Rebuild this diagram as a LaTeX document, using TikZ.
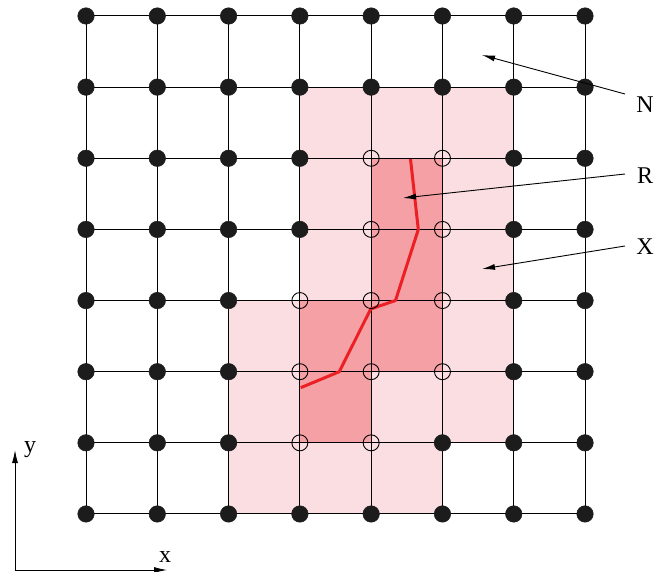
\documentclass[tikz,border=0pt]{standalone}
\usepackage{fontspec}
\setmainfont{Liberation Serif}
\usetikzlibrary{arrows.meta}
\definecolor{lightpink}{RGB}{251,222,225}
\definecolor{darkpink}{RGB}{245,160,165}
\definecolor{redpath}{RGB}{236,32,36}
\definecolor{dotblack}{RGB}{28,28,28}
\tikzset{
  gridline/.style={draw=black,line width=1pt},
  fulldot/.style={circle,fill=dotblack,draw=dotblack,line width=0.5pt,minimum size=16.5pt,inner sep=0pt},
  opendot/.style={circle,draw=black,line width=0.9pt,minimum size=16pt,inner sep=0pt},
  pointer/.style={draw=black,line width=0.9pt,-{Latex[length=13pt,width=6pt]}},
  lbl/.style={inner sep=0pt,font=\fontsize{24}{28}\selectfont}
}
\expandafter\def\csname h-4-2\endcsname{}
\expandafter\def\csname h-5-2\endcsname{}
\expandafter\def\csname h-4-3\endcsname{}
\expandafter\def\csname h-5-3\endcsname{}
\expandafter\def\csname h-3-4\endcsname{}
\expandafter\def\csname h-4-4\endcsname{}
\expandafter\def\csname h-5-4\endcsname{}
\expandafter\def\csname h-3-5\endcsname{}
\expandafter\def\csname h-4-5\endcsname{}
\expandafter\def\csname h-5-5\endcsname{}
\expandafter\def\csname h-3-6\endcsname{}
\expandafter\def\csname h-4-6\endcsname{}
\begin{document}
\begin{tikzpicture}[x=1pt,y=-1pt]
\useasboundingbox (0,0) rectangle (669,572);
% grid coordinates
\foreach \i in {0,...,7}{
  \foreach \j in {0,...,7}{
    \coordinate (p-\i-\j) at ({86+71.29*\i},{16+71.14*\j});
  }
}
% region X
\fill[lightpink] (p-3-1) -- (p-6-1) -- (p-6-6) -- (p-5-6) -- (p-5-7) -- (p-2-7) -- (p-2-4) -- (p-3-4) -- cycle;
% region R
\fill[darkpink] (p-4-2) -- (p-5-2) -- (p-5-5) -- (p-4-5) -- (p-4-6) -- (p-3-6) -- (p-3-4) -- (p-4-4) -- cycle;
% grid lines
\foreach \k in {0,...,7}{
  \draw[gridline] (p-\k-0) -- (p-\k-7);
  \draw[gridline] (p-0-\k) -- (p-7-\k);
}
% red path
\draw[redpath,line width=3pt,line join=round] (410.5,159) -- (418.3,229.5) -- (395.5,300.5) -- (370.7,309) -- (339.3,371.7) -- (300.7,387.7);
% dots
\foreach \i in {0,...,7}{
  \foreach \j in {0,...,7}{
    \ifcsname h-\i-\j\endcsname
      \node[opendot] (d-\i-\j) at (p-\i-\j) {};
    \else
      \node[fulldot] (d-\i-\j) at (p-\i-\j) {};
    \fi
  }
}
% labels and pointers
\node[lbl] (N) at (645,104.5) {N};
\node[lbl] (R) at (645,176) {R};
\node[lbl] (X) at (645,247) {X};
\coordinate (nS) at (625,94);
\coordinate (nT) at (482,55);
\coordinate (rS) at (625,174);
\coordinate (rT) at (403,198);
\coordinate (xS) at (625,246);
\coordinate (xT) at (482,269);
\draw[pointer] (nS) -- (nT);
\draw[pointer] (rS) -- (rT);
\draw[pointer] (xS) -- (xT);
% axes
\coordinate (O) at (15,570);
\coordinate (yT) at (15,450);
\coordinate (xA) at (167,570);
\draw[pointer] (O) -- (yT);
\draw[pointer] (O) -- (xA);
\node[lbl,anchor=base] (ylab) at (30,452) {y};
\node[lbl,anchor=base] (xlab) at (165,562) {x};
\end{tikzpicture}
\end{document}
